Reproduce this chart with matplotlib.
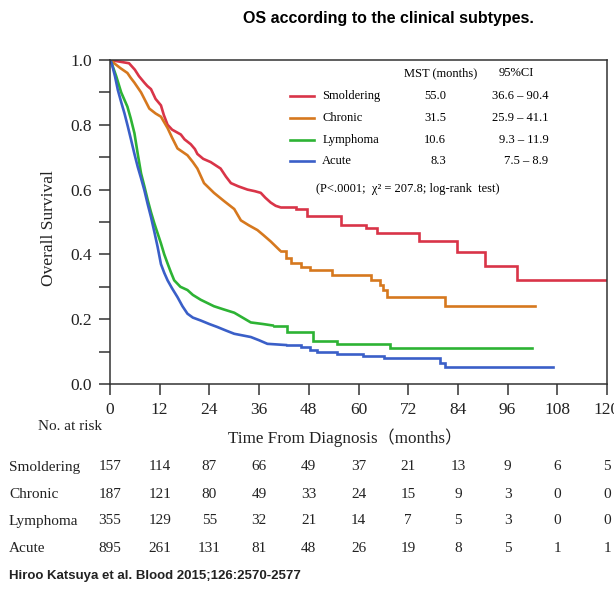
import matplotlib
matplotlib.use("Agg")
import matplotlib.pyplot as plt
import matplotlib.transforms as mtransforms

# ---------------- data ----------------
groups = ["Smoldering", "Chronic", "Lymphoma", "Acute"]
colors = ["#D93448", "#D6781E", "#2DB334", "#3A5FC8"]

smoldering_t = [0, 4.6, 6.0, 7.0, 8.3, 9.0, 9.9, 11.0, 12.3, 13.0, 13.9, 15.0, 17.1, 18.0, 19.5,
                20.5, 21.1, 22.5, 24.3, 25.5, 26.7, 28.0, 29.2, 31.0, 33.2, 35.0, 36.4, 37.5, 38.8,
                40.0, 41.2, 45.0, 47.6, 55.7, 61.7, 64.5, 74.5, 83.8, 90.6, 98.2, 120]
smoldering_s = [1.0, 0.99, 0.97, 0.95, 0.93, 0.92, 0.91, 0.88, 0.86, 0.83, 0.80, 0.785, 0.77, 0.755, 0.74,
                0.725, 0.71, 0.695, 0.685, 0.675, 0.665, 0.64, 0.62, 0.61, 0.60, 0.595, 0.59, 0.575, 0.56,
                0.55, 0.545, 0.539, 0.52, 0.49, 0.48, 0.465, 0.44, 0.407, 0.363, 0.32, 0.32]

chronic_t = [0, 1.0, 2.5, 4.2, 5.0, 5.9, 7.5, 8.3, 9.5, 11.0, 12.3, 13.9, 15.0, 16.3, 18.7, 20.0, 21.1,
             22.7, 25.1, 27.5, 30.0, 31.6, 33.5, 35.6, 37.0, 38.8, 41.2, 42.4, 43.6, 46.0, 48.4, 53.5,
             62.9, 65.3, 66.0, 66.9, 80.9, 102.7]
chronic_s = [1.0, 0.99, 0.975, 0.96, 0.945, 0.93, 0.90, 0.88, 0.85, 0.835, 0.825, 0.79, 0.76, 0.727,
             0.706, 0.685, 0.665, 0.62, 0.59, 0.565, 0.54, 0.505, 0.49, 0.475, 0.46, 0.44, 0.41, 0.39,
             0.375, 0.362, 0.353, 0.336, 0.32, 0.305, 0.29, 0.27, 0.242, 0.242]

lymphoma_t = [0, 0.4, 1.5, 2.7, 4.2, 5.0, 5.9, 6.7, 7.5, 8.3, 9.1, 9.9, 10.7, 11.5, 12.3, 13.1, 13.9,
              14.7, 15.5, 17.0, 18.7, 20.0, 21.9, 23.5, 25.1, 27.5, 30.0, 32.0, 34.0, 37.0, 39.6, 42.8,
              49.1, 54.8, 67.5, 101.8]
lymphoma_s = [1.0, 0.99, 0.95, 0.90, 0.856, 0.82, 0.774, 0.71, 0.65, 0.61, 0.568, 0.53, 0.496, 0.465,
              0.434, 0.40, 0.372, 0.345, 0.32, 0.30, 0.29, 0.275, 0.26, 0.25, 0.24, 0.23, 0.22, 0.205,
              0.19, 0.185, 0.18, 0.16, 0.132, 0.124, 0.11, 0.11]

acute_t = [0, 0.4, 1.2, 1.9, 2.7, 3.5, 4.3, 5.1, 5.9, 6.7, 7.5, 8.3, 9.1, 9.9, 10.7, 11.5, 12.3, 13.1,
           13.9, 15.0, 16.3, 17.5, 18.7, 20.0, 21.9, 24.0, 25.9, 28.0, 30.0, 32.0, 34.0, 36.0, 38.0,
           42.8, 46.0, 48.4, 50.0, 54.8, 61.2, 66.1, 79.7, 81.0, 107]
acute_s = [1.0, 0.99, 0.95, 0.907, 0.87, 0.835, 0.795, 0.753, 0.71, 0.67, 0.635, 0.598, 0.555, 0.515,
           0.47, 0.423, 0.37, 0.343, 0.32, 0.295, 0.268, 0.24, 0.217, 0.205, 0.196, 0.185, 0.176, 0.165,
           0.155, 0.15, 0.145, 0.135, 0.124, 0.12, 0.115, 0.105, 0.10, 0.093, 0.085, 0.08, 0.065,
           0.054, 0.054]

# time after which the (sparse) steps of each curve are drawn as a staircase;
# before it, the many small steps are drawn as a continuous trace
dense_until = [41.2, 41.2, 39.6, 42.8]

mst = ["55.0", "31.5", "10.6", "8.3"]
ci = ["36.6 \u2013 90.4", "25.9 \u2013 41.1", "9.3 \u2013 11.9", "7.5 \u2013 8.9"]

risk_times = [0, 12, 24, 36, 48, 60, 72, 84, 96, 108, 120]
risk_smoldering = [157, 114, 87, 66, 49, 37, 21, 13, 9, 6, 5]
risk_chronic = [187, 121, 80, 49, 33, 24, 15, 9, 3, 0, 0]
risk_lymphoma = [355, 129, 55, 32, 21, 14, 7, 5, 3, 0, 0]
risk_acute = [895, 261, 131, 81, 48, 26, 19, 8, 5, 1, 1]

# ---------------- plot ----------------
SERIF = "Liberation Serif"
SANS = "Liberation Sans"
plt.rcParams["font.family"] = [SERIF, "DejaVu Serif"]

fig = plt.figure(figsize=(6.14, 5.90), dpi=100)
ax = fig.add_axes([110 / 614, 1 - 384 / 590, 497 / 614, 324 / 590])

curves = [(smoldering_t, smoldering_s), (chronic_t, chronic_s),
          (lymphoma_t, lymphoma_s), (acute_t, acute_s)]
for (t, s), c, tsplit in zip(curves, colors, dense_until):
    i = t.index(tsplit)
    ax.plot(t[:i + 1], s[:i + 1], color=c, lw=1.9, solid_joinstyle="round",
            solid_capstyle="butt")
    ax.step(t[i:], s[i:], where="post", color=c, lw=1.9, solid_joinstyle="miter")

ax.set_xlim(0, 120)
ax.set_ylim(0, 1.0)
ax.set_xticks(risk_times)
ax.set_xticklabels([str(v) for v in risk_times])
ax.set_yticks([0.0, 0.2, 0.4, 0.6, 0.8, 1.0])
ax.set_yticklabels(["0.0", "0.2", "0.4", "0.6", "0.8", "1.0"])
ax.set_yticks([0.1, 0.3, 0.5, 0.7, 0.9], minor=True)
ax.tick_params(axis="both", which="both", direction="out", length=8, width=1.1,
               color="#333333", labelsize=12.5, labelcolor="#222222")
ax.tick_params(axis="x", pad=5)
ax.tick_params(axis="y", pad=5)
for sp in ax.spines.values():
    sp.set_color("#333333")
    sp.set_linewidth(1.1)

ax.set_ylabel("Overall Survival", fontsize=12.5, color="#222222", va="center")
ax.yaxis.set_label_coords(-0.122, 0.48)

# legend-like table inside the axes
tx = ax.transAxes
ax.text(0.666, 0.96, "MST (months)", transform=tx, ha="center", va="center", fontsize=9)
ax.text(0.817, 0.96, "95%CI", transform=tx, ha="center", va="center", fontsize=9)
row_y = [0.889, 0.821, 0.753, 0.688]
for g, c, m, k, y in zip(groups, colors, mst, ci, row_y):
    ax.plot([0.362, 0.41], [y, y], transform=tx, color=c, lw=1.9, clip_on=False)
    ax.text(0.427, y, g, transform=tx, ha="left", va="center", fontsize=9)
    ax.text(0.676, y, m, transform=tx, ha="right", va="center", fontsize=9)
    ax.text(0.882, y, k, transform=tx, ha="right", va="center", fontsize=9)
ax.text(0.414, 0.602, "(P<.0001;  \u03c7\u00b2 = 207.8; log-rank  test)", transform=tx,
        ha="left", va="center", fontsize=9)

# title and labels
fig.text(0.633, 1 - 18 / 590, "OS according to the clinical subtypes.", ha="center", va="center",
         fontsize=11.5, fontweight="bold", family=SANS)
fig.text(0.562, 1 - 438 / 590, "Time From Diagnosis\uff08months\uff09", ha="center", va="center",
         fontsize=12.3, family=[SERIF, "Noto Sans CJK JP"], color="#222222")
fig.text(38 / 614, 1 - 426 / 590, "No. at risk", ha="left", va="center", fontsize=11, color="#222222")

# number at risk table
blend = mtransforms.blended_transform_factory(ax.transData, fig.transFigure)
risk_rows = [risk_smoldering, risk_chronic, risk_lymphoma, risk_acute]
table_y = [467, 494, 521, 548]
for g, vals, py in zip(groups, risk_rows, table_y):
    yy = 1 - py / 590
    fig.text(9 / 614, yy, g, ha="left", va="center", fontsize=11, color="#222222")
    for tval, v in zip(risk_times, vals):
        ax.text(tval, yy, str(v), transform=blend, ha="center", va="center", fontsize=11,
                color="#222222", clip_on=False)

fig.text(9 / 614, 1 - 576 / 590, "Hiroo Katsuya et al. Blood 2015;126:2570-2577", ha="left",
         va="center", fontsize=9.5, fontweight="bold", family=SANS, color="#222222")

fig.savefig("out.png", dpi=100)
